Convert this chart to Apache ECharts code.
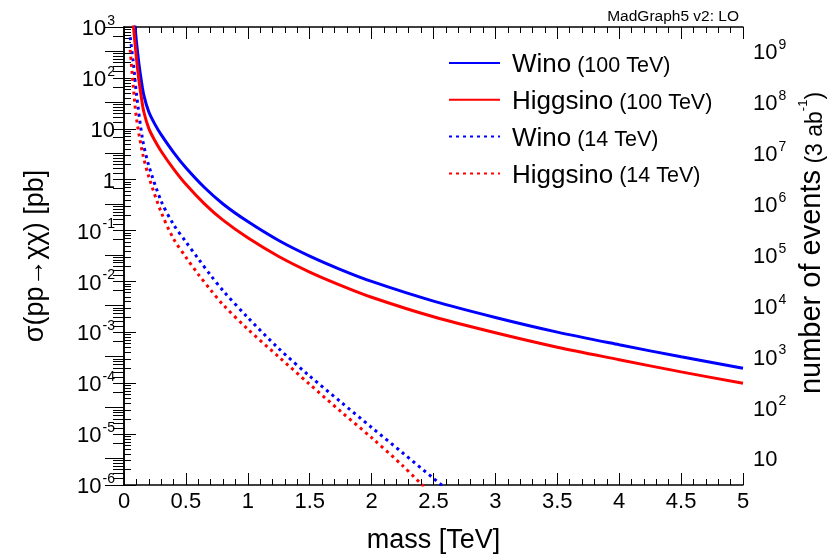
<!DOCTYPE html>
<html>
<head>
<meta charset="utf-8">
<script src="https://cdn.jsdelivr.net/npm/echarts@6/dist/echarts.min.js"></script>
<style>
  html, body { margin: 0; padding: 0; background: #fff; }
  #chart { width: 835px; height: 554px; }
</style>
</head>
<body>
<div id="chart"></div>
<script>
const FONT = '"Liberation Sans", Arial, Helvetica, sans-serif';

// cross section range [pb] and luminosity 3 ab^-1 = 3e6 pb^-1
const sigmaMin = 1e-6;
const sigmaMax = 1e3;
const lumi = 3e6;

// 100 TeV curves (masses in TeV, sigma in pb)
const massHeavy = [0.075, 0.09, 0.1, 0.12, 0.14, 0.16, 0.2, 0.25, 0.3, 0.4, 0.5, 0.65, 0.8, 1.0, 1.25, 1.5, 1.75, 2.0, 2.5, 3.0, 3.5, 4.0, 4.5, 5.0];
const wino100 = [2330, 955, 531, 195, 88, 46, 21.6, 12.2, 7.66, 3.44, 1.71, 0.70, 0.333, 0.150, 0.0637, 0.0314, 0.0171, 0.0100, 0.0041, 0.00196, 0.00101, 5.7e-4, 3.3e-4, 1.97e-4];
const higgsino100 = [1100, 450, 250, 92, 41.5, 21.6, 10.2, 5.8, 3.62, 1.63, 0.81, 0.335, 0.160, 0.072, 0.0309, 0.0153, 0.0084, 0.0049, 0.00202, 9.8e-4, 5.1e-4, 2.9e-4, 1.67e-4, 1.0e-4];

// 14 TeV curves
const massWino14 = [0.05, 0.075, 0.1, 0.15, 0.2, 0.3, 0.4, 0.5, 0.6, 0.7, 0.8, 1.0, 1.25, 1.5, 1.75, 2.0, 2.25, 2.5, 2.6];
const wino14 = [630, 200, 50, 6.2, 1.9, 0.38, 0.132, 0.060, 0.028, 0.0132, 0.0066, 0.00195, 4.8e-4, 1.38e-4, 4.3e-5, 1.35e-5, 4.3e-6, 1.35e-6, 8.5e-7];
const massHiggsino14 = [0.05, 0.075, 0.1, 0.15, 0.2, 0.3, 0.4, 0.5, 0.6, 0.7, 0.8, 1.0, 1.25, 1.5, 1.75, 2.0, 2.25, 2.45];
const higgsino14 = [355, 68, 16.6, 3.3, 1.15, 0.23, 0.069, 0.030, 0.0138, 0.0068, 0.0035, 0.00115, 3.3e-4, 9.5e-5, 2.8e-5, 8.5e-6, 2.4e-6, 7.9e-7];

const seriesNames = ['Wino (100 TeV)', 'Higgsino (100 TeV)', 'Wino (14 TeV)', 'Higgsino (14 TeV)'];

function pairs(xs, ys) {
  return xs.map((x, i) => [x, ys[i]]);
}

function powLabel(v) {
  const e = Math.round(Math.log10(v));
  if (e === 0) return '{b|1}';
  if (e === 1) return '{b|10}';
  return '{b|10}{s|' + e + '}';
}

const labelRich = {
  b: { fontSize: 22, fontFamily: FONT, color: '#000', lineHeight: 26, verticalAlign: 'bottom' },
  s: { fontSize: 14, fontFamily: FONT, color: '#000', lineHeight: 26, verticalAlign: 'top', padding: [0, 0, 0, 1] }
};

const black = { color: '#000' };

const chart = echarts.init(document.getElementById('chart'), null, { renderer: 'canvas' });

chart.setOption({
  backgroundColor: '#fff',
  animation: false,
  title: {
    text: 'MadGraph5 v2: LO',
    right: 91,
    top: 4,
    textStyle: { fontSize: 15.5, fontWeight: 'normal', color: '#000', fontFamily: FONT }
  },
  legend: {
    orient: 'vertical',
    left: 443,
    top: 47,
    itemWidth: 51,
    itemHeight: 14,
    itemGap: 10.8,
    data: seriesNames,
    itemStyle: { opacity: 0 },
    formatter: function (n) {
      const i = n.indexOf(' (');
      return '{a|' + n.slice(0, i) + '}{b| ' + n.slice(i + 1) + '}';
    },
    textStyle: {
      padding: [0, 0, 0, 7],
      rich: {
        a: { fontSize: 26, fontFamily: FONT, color: '#000', lineHeight: 30, verticalAlign: 'bottom' },
        b: { fontSize: 21.5, fontFamily: FONT, color: '#000', lineHeight: 30, verticalAlign: 'bottom', padding: [0, 0, 1, 0] }
      }
    }
  },
  grid: { left: 124, right: 92, top: 27, bottom: 69, outerBoundsMode: 'none', containLabel: false },
  xAxis: [
    {
      type: 'value', min: 0, max: 5, interval: 0.5, position: 'bottom',
      axisLine: { lineStyle: { color: '#000', width: 1.5 } },
      axisTick: { inside: true, length: 12, lineStyle: black },
      minorTick: { show: true, splitNumber: 5, length: 6, lineStyle: black },
      splitLine: { show: false },
      axisLabel: { margin: 6, fontSize: 22, color: '#000', fontFamily: FONT },
      name: 'mass [TeV]', nameLocation: 'middle', nameGap: 42,
      nameTextStyle: { fontSize: 27, color: '#000', fontFamily: FONT }
    },
    {
      type: 'value', min: 0, max: 5, interval: 0.5, position: 'top',
      axisLine: { lineStyle: { color: '#000', width: 1.5 } },
      axisTick: { inside: true, length: 12, lineStyle: black },
      minorTick: { show: true, splitNumber: 5, length: 6, lineStyle: black },
      splitLine: { show: false },
      axisLabel: { show: false }
    }
  ],
  yAxis: [
    {
      type: 'log', logBase: 10, min: sigmaMin, max: sigmaMax, splitNumber: 10, position: 'left',
      axisLine: { show: true, lineStyle: { color: '#000', width: 1.5 } },
      axisTick: { show: true, inside: true, length: 12, lineStyle: black },
      minorTick: { show: true, splitNumber: 9, length: 7, lineStyle: black },
      splitLine: { show: false },
      axisLabel: { margin: 9, formatter: powLabel, rich: labelRich },
      name: 'σ(pp→χχ) [pb]', nameLocation: 'middle', nameGap: 75, nameRotate: 90,
      nameTextStyle: { fontSize: 27, color: '#000', fontFamily: FONT }
    },
    {
      type: 'log', logBase: 10, min: sigmaMin * lumi, max: sigmaMax * lumi, splitNumber: 10, position: 'right',
      axisLine: { show: true, lineStyle: { color: '#000', width: 1.5 } },
      axisTick: { show: true, inside: true, length: 19, lineStyle: black },
      minorTick: { show: true, splitNumber: 9, length: 11, lineStyle: black },
      splitLine: { show: false },
      axisLabel: { margin: 10, formatter: powLabel, rich: labelRich, showMinLabel: false, showMaxLabel: false },
      name: 'number of events{s| (3 ab}{t|-1}{s|)}', nameLocation: 'middle', nameGap: 53, nameRotate: 90,
      nameTextStyle: {
        fontSize: 29, color: '#000', fontFamily: FONT, padding: [0, 0, 0, 26],
        rich: {
          s: { fontSize: 23, fontFamily: FONT, color: '#000', lineHeight: 30, verticalAlign: 'bottom' },
          t: { fontSize: 13, fontFamily: FONT, color: '#000', lineHeight: 30, verticalAlign: 'top' }
        }
      }
    }
  ],
  series: [
    {
      name: seriesNames[0], type: 'line', data: pairs(massHeavy, wino100),
      showSymbol: false, symbol: 'none', smooth: 0.3, clip: true,
      lineStyle: { color: '#0000ff', width: 3 }, itemStyle: { color: '#0000ff' }
    },
    {
      name: seriesNames[1], type: 'line', data: pairs(massHeavy, higgsino100),
      showSymbol: false, symbol: 'none', smooth: 0.3, clip: true,
      lineStyle: { color: '#ff0000', width: 3 }, itemStyle: { color: '#ff0000' }
    },
    {
      name: seriesNames[2], type: 'line', data: pairs(massWino14, wino14),
      showSymbol: false, symbol: 'none', smooth: 0.3, clip: true,
      lineStyle: { color: '#0000ff', width: 3, type: [3, 4] }, itemStyle: { color: '#0000ff' }
    },
    {
      name: seriesNames[3], type: 'line', data: pairs(massHiggsino14, higgsino14),
      showSymbol: false, symbol: 'none', smooth: 0.3, clip: true,
      lineStyle: { color: '#ff0000', width: 3, type: [3, 4] }, itemStyle: { color: '#ff0000' }
    }
  ]
});
</script>
</body>
</html>
